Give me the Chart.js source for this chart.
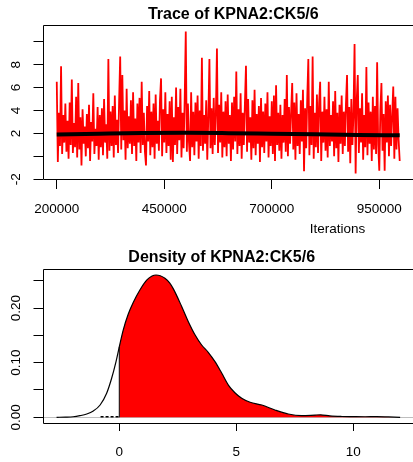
<!DOCTYPE html>
<html><head><meta charset="utf-8">
<script src="https://cdn.jsdelivr.net/npm/chart.js@4.4.0/dist/chart.umd.min.js"></script>
<style>html,body{margin:0;padding:0;background:#fff;}canvas{display:block;}</style>
</head><body>
<canvas id="trace" width="413" height="240"></canvas>
<canvas id="dens" width="413" height="222"></canvas>
<script>
const traceTitle = 'Trace of KPNA2:CK5/6';
const densityTitle = 'Density of KPNA2:CK5/6';
const traceXLabel = 'Iterations';

const iterStart = 200000;
const iterStep = 2500;
const traceValues = [
  6.5, -0.5, 3.8, 0.9, 7.85, 0.2, 3.6, 1.2, 4.6, 0.4,
  3.1, -0.2, 4.7, 1.0, 6.7, 0.3, 2.9, 0.8, 5.2, -0.1,
  6.4, 0.6, 3.4, -0.8, 4.1, 1.1, 2.6, 0.0, 3.7, 0.7,
  4.5, -0.4, 3.0, 1.3, 5.5, 0.2, 2.4, 0.9, 4.3, -0.3,
  3.6, 0.8, 4.2, 0.1, 5.0, 1.2, 2.8, -0.2, 8.5, 0.5,
  3.9, 0.9, 4.4, -0.1, 5.3, 1.0, 3.2, 0.3, 4.8, 8.7,
  0.6, 7.1, 1.4, 4.0, -0.3, 5.9, 0.7, 3.5, 1.1, 4.9,
  0.2, 5.6, 0.9, 3.3, -0.4, 4.6, 1.2, 5.1, 0.3, 6.5,
  1.0, 3.8, 0.4, -0.8, 4.4, 1.3, 5.7, 0.1, 3.9, 0.8,
  4.6, -0.2, 5.4, 1.1, 3.1, 0.5, 4.9, 6.8, 0.0, 4.1,
  1.2, 5.6, 0.3, 3.7, 0.9, 4.8, -0.3, 5.2, -0.5, 3.4,
  1.0, 6.0, 0.2, 4.3, 1.4, 5.9, -0.1, 3.8, 0.7, 5.0,
  10.9, 0.4, 4.6, 1.2, -0.4, 5.6, 0.8, 3.9, 0.1, 4.7,
  1.3, 5.3, -0.2, 4.0, 0.9, 8.6, 0.5, 3.6, 1.1, 4.9,
  -0.3, 3.5, 8.5, 0.7, 4.2, 0.2, 5.1, 1.0, 3.7, 9.4,
  0.3, 4.5, 1.2, 5.6, -0.1, 3.9, 0.8, 4.8, 0.0, 5.4,
  1.1, 3.6, -0.4, 4.7, 0.6, 5.2, 1.3, 7.4, 0.2, 4.1,
  0.9, 5.5, -0.2, 3.8, 1.0, 4.6, 7.9, 0.4, 5.0, 1.2,
  3.4, -0.3, 4.9, 0.7, 5.8, 0.1, 3.7, 1.1, 4.4, -0.5,
  5.1, 0.8, 3.9, 0.3, 4.6, 1.3, 5.6, -0.1, 3.5, 0.9,
  4.8, 0.2, 5.3, -0.4, 6.2, 1.0, 3.8, 0.5, 4.5, -0.2,
  3.6, 1.2, 5.0, 0.4, 7.1, 0.0, 4.3, 1.1, 3.9, 6.4,
  0.6, 4.7, -0.3, 5.5, 0.9, 3.7, 0.2, 4.9, 1.3, 5.8,
  -1.3, 4.2, 0.7, 5.1, 8.5, 0.1, 4.4, 1.0, 8.7, -0.2,
  3.8, 0.8, 5.4, 0.3, 4.6, 6.5, -0.4, 3.9, 1.2, 5.2,
  0.5, 4.1, -0.1, 6.5, 0.9, 3.6, 1.3, 4.8, 0.0, 5.7,
  0.7, 3.8, -0.5, 4.5, 1.1, 5.3, 0.2, 3.9, 0.9, 4.6,
  7.1, 0.4, 4.3, -0.6, 5.0, 1.0, 3.7, 9.8, -1.5, 4.9,
  7.1, 0.3, 4.2, 1.2, 5.5, -0.3, 3.6, 0.8, 7.8, 0.1,
  4.7, 1.1, 3.9, -0.4, 5.2, 0.6, 4.4, 0.2, 8.2, 1.0,
  -1.25, 4.0, 6.4, 0.5, 3.7, -1.25, 4.8, 1.2, 5.3, 0.0,
  4.5, 0.9, 3.6, 6.1, -0.2, 5.2, 0.6, 4.2, 1.4, -0.4
];
const smoothIterations = [200000, 300000, 400000, 500000, 600000, 700000, 800000, 900000, 997500];
const smoothValues = [1.90, 1.97, 2.03, 2.05, 2.02, 1.97, 1.92, 1.87, 1.83];

const traceXTicks = [200000, 450000, 700000, 950000];
const traceXTickLabels = ['200000', '450000', '700000', '950000'];
const traceYTicks = [-2, 0, 2, 4, 6, 8, 10];
const traceYTickLabels = ['-2', '', '2', '4', '6', '8', ''];

const densityX = [-2.68, -2.3, -1.97, -1.68, -1.39, -1.11, -0.82, -0.54, -0.33, -0.14,
  0, 0.17, 0.38, 0.6, 0.88, 1.17, 1.4, 1.57, 1.75, 1.95,
  2.15, 2.31, 2.67, 2.95, 3.24, 3.52, 3.8, 4.09, 4.38, 4.66,
  4.94, 5.23, 5.59, 6.09, 6.65, 7.22, 7.79, 8.36, 8.6, 9.0,
  9.5, 10.0, 10.5, 11.0, 11.5, 12.0];
const densityY = [0.0, 0.0003, 0.001, 0.003, 0.006, 0.0115, 0.0225, 0.044, 0.071, 0.102,
  0.129, 0.160, 0.1885, 0.2105, 0.233, 0.251, 0.2585, 0.2604, 0.259, 0.2544,
  0.246, 0.235, 0.2024, 0.175, 0.1506, 0.1323, 0.119, 0.1018, 0.0805, 0.059,
  0.045, 0.0348, 0.0275, 0.0225, 0.0134, 0.006, 0.003, 0.004, 0.0045, 0.0025,
  0.0015, 0.0012, 0.0010, 0.0012, 0.0006, 0.0];
const fillFrom = 0;
const zeroLine = 0;
const baseSegmentX = [-0.8, 0];

const densXTicks = [0, 5, 10];
const densXTickLabels = ['0', '5', '10'];
const densYTicks = [0, 0.05, 0.10, 0.15, 0.20, 0.25];
const densYTickLabels = ['0.00', '', '0.10', '', '0.20', ''];

Chart.defaults.font.family = "'Liberation Sans', Arial, Helvetica, sans-serif";
Chart.defaults.font.size = 13.5;
Chart.defaults.color = '#000';

const boxPlugin = {
  id: 'rbox',
  afterDraw(chart) {
    const {ctx, chartArea: a} = chart;
    const l = Math.floor(a.left) + 0.5, t = Math.floor(a.top) + 0.5;
    const b = Math.floor(a.bottom) + 0.5, r = a.right + 2;
    ctx.save();
    ctx.strokeStyle = '#000';
    ctx.lineWidth = 1;
    ctx.beginPath();
    ctx.moveTo(r, t); ctx.lineTo(l, t); ctx.lineTo(l, b); ctx.lineTo(r, b);
    ctx.stroke();
    ctx.restore();
  }
};
function titleShift(dx) {
  return { id: 'tshift', afterLayout(chart) {
    const tb = chart.titleBlock;
    if (tb) { tb.left += dx; tb.right += dx; }
  } };
}
function ticksFrom(values) {
  return s => { s.ticks = values.map(v => ({value: v})); };
}
function axisCommon(tickLength) {
  return {
    grid: { display: true, drawOnChartArea: false, drawTicks: true, tickLength: tickLength, color: '#000', lineWidth: 1 },
    border: { display: false }
  };
}

const xLabelPlugin = {
  id: 'xlab',
  afterDraw(chart) {
    const ctx = chart.ctx;
    ctx.save();
    ctx.font = "13.5px 'Liberation Sans', Arial, sans-serif";
    ctx.fillStyle = '#000';
    ctx.textAlign = 'center';
    ctx.textBaseline = 'middle';
    ctx.fillText(traceXLabel, 337.5, 229.3);
    ctx.restore();
  }
};

new Chart(document.getElementById('trace'), {
  type: 'line',
  data: {
    datasets: [
      { data: traceValues.map((v, i) => ({x: iterStart + i * iterStep, y: v})),
        borderColor: '#ff0000', borderWidth: 1.8, pointRadius: 0, tension: 0, order: 2 },
      { data: smoothIterations.map((x, i) => ({x: x, y: smoothValues[i]})),
        borderColor: '#000', borderWidth: 4, pointRadius: 0, cubicInterpolationMode: 'monotone', order: 1 }
    ]
  },
  options: {
    responsive: false, animation: false, devicePixelRatio: 1, events: [],
    layout: { padding: 0 },
    plugins: {
      legend: { display: false }, tooltip: { enabled: false },
      title: { display: true, text: traceTitle, fullSize: false,
        font: { size: 16, weight: 'bold', lineHeight: 1.2 }, padding: { top: 4.6, bottom: 1.2 } }
    },
    scales: {
      x: Object.assign({
        type: 'linear', min: 168000, max: 1028400,
        afterBuildTicks: ticksFrom(traceXTicks),
        afterFit: s => { s.height = 60.5; s.paddingLeft = 0; s.paddingRight = 0; },
        ticks: { autoSkip: false, maxRotation: 0, minRotation: 0, padding: 12,
          callback: (v, i) => traceXTickLabels[i] }
      }, axisCommon(9.5)),
      y: Object.assign({
        type: 'linear', min: -2.02, max: 11.46,
        afterBuildTicks: ticksFrom(traceYTicks),
        afterFit: s => { s.width = 43; s.paddingTop = 0; s.paddingBottom = 0; },
        ticks: { autoSkip: false, minRotation: 90, maxRotation: 90, crossAlign: 'center', padding: 11.5,
          callback: (v, i) => traceYTickLabels[i] }
      }, axisCommon(9.5))
    }
  },
  plugins: [boxPlugin, titleShift(5.3), xLabelPlugin]
});

const zeroLinePlugin = {
  id: 'zline',
  beforeDatasetsDraw(chart) {
    const {ctx, chartArea: a, scales} = chart;
    const y = Math.round(scales.y.getPixelForValue(zeroLine)) + 0.5;
    ctx.save();
    ctx.strokeStyle = '#bebebe';
    ctx.lineWidth = 1;
    ctx.beginPath(); ctx.moveTo(a.left, y); ctx.lineTo(a.right, y); ctx.stroke();
    ctx.restore();
  }
};

const densCurve = densityX.map((x, i) => ({x: x, y: densityY[i]}));
const densFilled = densCurve.filter(p => p.x >= fillFrom);
const densEdge = [{x: fillFrom, y: 0}, {x: fillFrom, y: densFilled[0].y}];

new Chart(document.getElementById('dens'), {
  type: 'line',
  data: {
    datasets: [
      { data: densFilled, backgroundColor: '#ff0000', borderWidth: 0, fill: 'origin',
        pointRadius: 0, cubicInterpolationMode: 'monotone', order: 4 },
      { data: baseSegmentX.map(x => ({x: x, y: 0.0008})), borderColor: '#000', borderWidth: 1.5,
        borderDash: [3, 2], pointRadius: 0, order: 3 },
      { data: densCurve, borderColor: '#000', borderWidth: 1.2, fill: false,
        pointRadius: 0, cubicInterpolationMode: 'monotone', order: 1 },
      { data: densEdge, borderColor: '#000', borderWidth: 1, pointRadius: 0, order: 2 }
    ]
  },
  options: {
    responsive: false, animation: false, devicePixelRatio: 1, events: [],
    layout: { padding: 0 },
    plugins: {
      legend: { display: false }, tooltip: { enabled: false },
      title: { display: true, text: densityTitle, fullSize: false,
        font: { size: 16, weight: 'bold', lineHeight: 1.2 }, padding: { top: 8.4, bottom: 1.4 } }
    },
    scales: {
      x: Object.assign({
        type: 'linear', min: -3.26, max: 12.55,
        afterBuildTicks: ticksFrom(densXTicks),
        afterFit: s => { s.height = 39; s.paddingLeft = 0; s.paddingRight = 0; },
        ticks: { autoSkip: false, maxRotation: 0, minRotation: 0, padding: 13.2,
          callback: (v, i) => densXTickLabels[i] }
      }, axisCommon(8)),
      y: Object.assign({
        type: 'linear', min: -0.01043, max: 0.2714,
        afterBuildTicks: ticksFrom(densYTicks),
        afterFit: s => { s.width = 43; s.paddingTop = 0; s.paddingBottom = 0; },
        ticks: { autoSkip: false, minRotation: 90, maxRotation: 90, crossAlign: 'center', padding: 4.4,
          callback: (v, i) => densYTickLabels[i] }
      }, axisCommon(9.5))
    }
  },
  plugins: [boxPlugin, titleShift(-6.3), zeroLinePlugin]
});
</script>
</body></html>
